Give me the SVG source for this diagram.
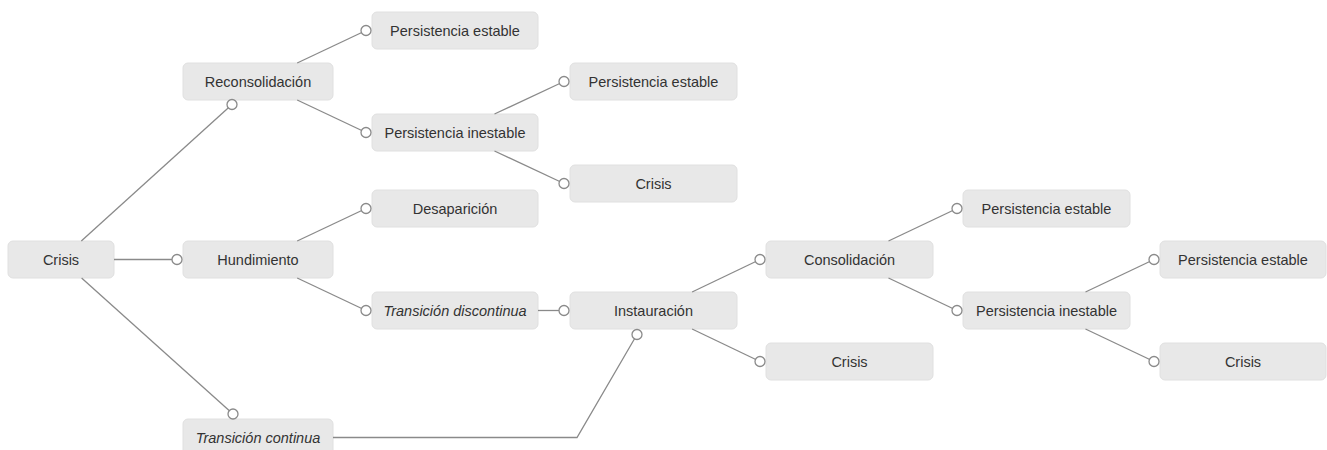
<svg xmlns="http://www.w3.org/2000/svg" width="1327" height="450" viewBox="0 0 1327 450">
<style>
.box{fill:#e8e8e8;stroke:#e0e0e0;stroke-width:1}
.lbl{font-family:"Liberation Sans",Arial,sans-serif;font-size:14.5px;fill:#333;text-anchor:middle;dominant-baseline:central}
.it{font-style:italic}
.con{fill:none;stroke:#8a8a8a;stroke-width:1.3;marker-end:url(#dot)}
</style>
<defs>
<marker id="dot" markerUnits="userSpaceOnUse" markerWidth="14" markerHeight="14" refX="7" refY="7" overflow="visible">
<circle cx="7" cy="7" r="5" fill="#fff" stroke="#8a8a8a" stroke-width="1.3"/>
</marker>
</defs>
<rect width="1327" height="450" fill="#fff"/>
<g id="nodes">
<g id="n-crisis-root"><rect class="box" x="8" y="241" width="106" height="37" rx="5"/><text class="lbl" x="61" y="259.5">Crisis</text></g>
<g id="n-reconsolidacion"><rect class="box" x="183" y="63" width="150" height="37" rx="5"/><text class="lbl" x="258" y="81.5">Reconsolidación</text></g>
<g id="n-hundimiento"><rect class="box" x="183" y="241" width="150" height="37" rx="5"/><text class="lbl" x="258" y="259.5">Hundimiento</text></g>
<g id="n-transicion-continua"><rect class="box" x="183" y="419" width="150" height="37" rx="5"/><text class="lbl it" x="258" y="437.5">Transición continua</text></g>
<g id="n-pe1"><rect class="box" x="372" y="12" width="166" height="37" rx="5"/><text class="lbl" x="455" y="30.5">Persistencia estable</text></g>
<g id="n-pi1"><rect class="box" x="372" y="114" width="166" height="37" rx="5"/><text class="lbl" x="455" y="132.5">Persistencia inestable</text></g>
<g id="n-desaparicion"><rect class="box" x="372" y="190" width="166" height="37" rx="5"/><text class="lbl" x="455" y="208.5">Desaparición</text></g>
<g id="n-transicion-discontinua"><rect class="box" x="372" y="292" width="166" height="37" rx="5"/><text class="lbl it" x="455" y="310.5">Transición discontinua</text></g>
<g id="n-pe2"><rect class="box" x="570" y="63" width="167" height="37" rx="5"/><text class="lbl" x="653.5" y="81.5">Persistencia estable</text></g>
<g id="n-crisis2"><rect class="box" x="570" y="165" width="167" height="37" rx="5"/><text class="lbl" x="653.5" y="183.5">Crisis</text></g>
<g id="n-instauracion"><rect class="box" x="570" y="292" width="167" height="37" rx="5"/><text class="lbl" x="653.5" y="310.5">Instauración</text></g>
<g id="n-consolidacion"><rect class="box" x="766" y="241" width="167" height="37" rx="5"/><text class="lbl" x="849.5" y="259.5">Consolidación</text></g>
<g id="n-crisis3"><rect class="box" x="766" y="343" width="167" height="37" rx="5"/><text class="lbl" x="849.5" y="361.5">Crisis</text></g>
<g id="n-pe3"><rect class="box" x="963" y="190" width="167" height="37" rx="5"/><text class="lbl" x="1046.5" y="208.5">Persistencia estable</text></g>
<g id="n-pi2"><rect class="box" x="963" y="292" width="167" height="37" rx="5"/><text class="lbl" x="1046.5" y="310.5">Persistencia inestable</text></g>
<g id="n-pe4"><rect class="box" x="1160" y="241" width="166" height="37" rx="5"/><text class="lbl" x="1243" y="259.5">Persistencia estable</text></g>
<g id="n-crisis4"><rect class="box" x="1160" y="343" width="166" height="37" rx="5"/><text class="lbl" x="1243" y="361.5">Crisis</text></g>
</g>
<g id="connectors">
<path class="con" d="M81.3,241 L232,104.5"/>
<path class="con" d="M114,259.5 L177,259.5"/>
<path class="con" d="M81.6,278 L233,414"/>
<path class="con" d="M297.2,63 L366,30.5"/>
<path class="con" d="M297.2,100 L366,132.5"/>
<path class="con" d="M297.2,241 L366,208.5"/>
<path class="con" d="M297.2,278 L366,310.5"/>
<path class="con" d="M494.5,114 L564,81.5"/>
<path class="con" d="M494.5,151 L564,183.5"/>
<path class="con" d="M538,310.5 L564,310.5"/>
<path class="con" d="M333,437.5 L577,437.5 L637,334.5"/>
<path class="con" d="M692.1,292 L760,259.5"/>
<path class="con" d="M692.1,329 L760,361.5"/>
<path class="con" d="M888.5,241 L957,208.5"/>
<path class="con" d="M888.5,278 L957,310.5"/>
<path class="con" d="M1085.5,292 L1154,259.5"/>
<path class="con" d="M1085.5,329 L1154,361.5"/>
</g>
</svg>
